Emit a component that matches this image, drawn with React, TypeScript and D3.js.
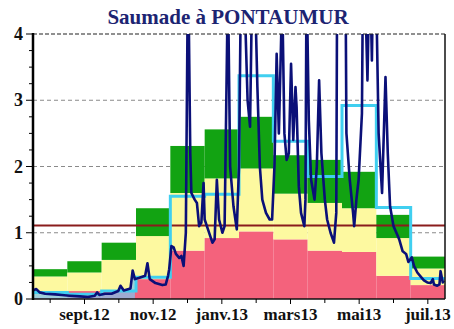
import React from "react";
import * as d3 from "d3";

// Monthly reference flows (m3/s), August 2012 to July 2013
const monthLabels = ["août", "sept.", "oct.", "nov.", "déc.", "janv.", "févr.", "mars", "avr.", "mai", "juin", "juil."];
const dryQuantile = [0.02, 0.12, 0.13, 0.3, 0.73, 0.92, 1.02, 0.9, 0.73, 0.71, 0.35, 0.21];
const medianQuantile = [0.34, 0.4, 0.59, 0.95, 1.6, 1.82, 1.97, 1.59, 1.45, 1.37, 0.92, 0.46];
const wetQuantile = [0.45, 0.57, 0.85, 1.37, 2.31, 2.56, 2.75, 2.17, 2.1, 1.92, 1.27, 0.64];
const monthlyMean = [0.1, 0.07, 0.12, 0.33, 1.55, 1.58, 3.37, 2.38, 1.85, 2.92, 1.38, 0.31];

const thresholdFlow = 1.11;

// Daily flows
const dailyDates = [
  "2012-08-01", "2012-08-04", "2012-08-07", "2012-08-12", "2012-08-21", "2012-08-27",
  "2012-09-03", "2012-09-12", "2012-09-19", "2012-09-25", "2012-09-27", "2012-09-29",
  "2012-10-04", "2012-10-10", "2012-10-16", "2012-10-18", "2012-10-21", "2012-10-27", "2012-10-29", "2012-10-31",
  "2012-11-04", "2012-11-09", "2012-11-11", "2012-11-13", "2012-11-18", "2012-11-24", "2012-11-27", "2012-11-29", "2012-11-30",
  "2012-12-02", "2012-12-04", "2012-12-06", "2012-12-09", "2012-12-11", "2012-12-13", "2012-12-15", "2012-12-17", "2012-12-19",
  "2012-12-20", "2012-12-23", "2012-12-25", "2012-12-27", "2012-12-29", "2012-12-31",
  "2013-01-01", "2013-01-04", "2013-01-08", "2013-01-10", "2013-01-12", "2013-01-14", "2013-01-17", "2013-01-19",
  "2013-01-22", "2013-01-24", "2013-01-27", "2013-01-30",
  "2013-02-01", "2013-02-03", "2013-02-05", "2013-02-08", "2013-02-10", "2013-02-12", "2013-02-14", "2013-02-16",
  "2013-02-18", "2013-02-20", "2013-02-23", "2013-02-26", "2013-02-28",
  "2013-03-02", "2013-03-04", "2013-03-06", "2013-03-08", "2013-03-09", "2013-03-11", "2013-03-13", "2013-03-15",
  "2013-03-17", "2013-03-19", "2013-03-21", "2013-03-22", "2013-03-24", "2013-03-26", "2013-03-29", "2013-03-30", "2013-03-31",
  "2013-04-02", "2013-04-04", "2013-04-07", "2013-04-09", "2013-04-11", "2013-04-13", "2013-04-16", "2013-04-18",
  "2013-04-21", "2013-04-24", "2013-04-26", "2013-04-27", "2013-04-30",
  "2013-05-02", "2013-05-04", "2013-05-05", "2013-05-08", "2013-05-11", "2013-05-12", "2013-05-14", "2013-05-16",
  "2013-05-19", "2013-05-20", "2013-05-22", "2013-05-24", "2013-05-26", "2013-05-28", "2013-05-29",
  "2013-06-01", "2013-06-03", "2013-06-05", "2013-06-06", "2013-06-09", "2013-06-11", "2013-06-13", "2013-06-16",
  "2013-06-19", "2013-06-21", "2013-06-24", "2013-06-27", "2013-06-29",
  "2013-07-02", "2013-07-04", "2013-07-07", "2013-07-11", "2013-07-13", "2013-07-16", "2013-07-19", "2013-07-21",
  "2013-07-22", "2013-07-25", "2013-07-27", "2013-07-28", "2013-07-30", "2013-07-31",
];
const dailyFlows = [
  0.13, 0.15, 0.1, 0.08, 0.07, 0.06,
  0.05, 0.04, 0.03, 0.05, 0.1, 0.06,
  0.08, 0.08, 0.12, 0.2, 0.13, 0.16, 0.43, 0.3,
  0.32, 0.35, 0.54, 0.3, 0.24, 0.21, 0.22, 0.35, 0.45,
  0.8, 0.78, 0.68, 0.62, 0.65, 0.5, 1.0, 5.2, 2.2,
  1.6, 1.5, 1.45, 1.1, 1.15, 1.75,
  1.2, 1.05, 0.85, 0.9, 1.8, 1.2, 1.0, 1.1,
  4.8, 2.0, 1.4, 1.05,
  2.0, 5.5, 4.9, 3.0, 2.6, 5.1, 4.7, 3.2,
  2.0, 1.5, 1.3, 1.2, 1.2,
  2.0, 3.7, 2.5, 3.9, 4.6, 2.5, 2.1, 2.2,
  3.55, 2.4, 3.2, 2.9, 1.7, 1.3, 1.1, 1.5, 4.9,
  2.7, 1.8, 1.5, 2.0, 3.3, 2.2, 1.5, 1.2,
  1.0, 0.85, 1.3, 6.0, 5.0,
  4.7, 5.4, 2.5, 1.8, 1.3, 1.1, 1.5, 1.8,
  2.8, 5.0, 4.6, 3.3, 5.2, 3.6, 4.8,
  4.5, 2.5, 1.9, 1.6, 3.35, 2.2, 1.4, 1.1,
  0.98, 0.9, 0.72, 0.68, 0.56,
  0.63, 0.5, 0.4, 0.32, 0.28, 0.25, 0.24, 0.3,
  0.22, 0.2, 0.22, 0.42, 0.25, 0.28,
];
// End of the low-water period
const lowWaterEnd = "2012-10-31";

const xTickMonths = [1, 3, 5, 7, 9, 11];
const xTickLabels = ["sept.12", "nov.12", "janv.13", "mars13", "mai13", "juil.13"];
const yTicks = [0, 1, 2, 3, 4];

const W = 454;
const H = 329;
const left = 33;
const right = 445;
const top = 34;
const bottom = 299;

const startYear = 2012;
const startMonth = 7; // August (0-based)

// Position of a date in months since 1 August 2012 (every month drawn with equal width)
function monthPos(s: string): number {
  const [yy, mm, dd] = s.split("-").map(Number);
  const m = (yy - startYear) * 12 + (mm - 1 - startMonth);
  const days = new Date(yy, mm, 0).getDate();
  return m + (dd - 1) / days;
}

export default function App() {
  const x = d3.scaleLinear().domain([0, 12]).range([left, right]);
  const y = d3.scaleLinear().domain([0, 4]).range([bottom, top]);

  const daily = dailyDates.map((d, i) => ({ t: monthPos(d), v: dailyFlows[i], d }));
  const lowWater = daily.filter((p) => p.t <= monthPos(lowWaterEnd));

  const flowLine = d3
    .line<{ t: number; v: number }>()
    .x((p) => x(p.t))
    .y((p) => y(p.v));
  const lowArea = d3
    .area<{ t: number; v: number }>()
    .x((p) => x(p.t))
    .y0(y(0))
    .y1((p) => y(p.v));

  const meanPts = monthlyMean.map((v, i) => [i, v] as [number, number]);
  meanPts.push([12, monthlyMean[monthlyMean.length - 1]]);
  const meanLine = d3
    .line<[number, number]>()
    .x((p) => x(p[0]))
    .y((p) => y(p[1]))
    .curve(d3.curveStepAfter);

  const minorY = d3.range(0, 4.001, 0.25);
  const font = "'Liberation Serif', 'Times New Roman', serif";

  return (
    <svg
      width={W}
      height={H}
      style={{ position: "absolute", left: 0, top: 0, background: "#fff" }}
    >
      <defs>
        <clipPath id="plot">
          <rect x={left} y={top} width={right - left} height={bottom - top} />
        </clipPath>
      </defs>

      <text
        x={228}
        y={24}
        textAnchor="middle"
        fontFamily={font}
        fontWeight="bold"
        fontSize={21}
        fill="#1c2472"
      >
        Saumade à PONTAUMUR
      </text>

      {/* horizontal grid */}
      {[1, 2, 3].map((v) => (
        <line
          key={v}
          x1={left}
          x2={right}
          y1={y(v)}
          y2={y(v)}
          stroke="#8a8a8a"
          strokeWidth={1}
          strokeDasharray="4,3"
        />
      ))}

      {/* monthly quantile bands */}
      <g>
        {monthLabels.map((m, i) => (
          <g key={m}>
            <rect
              x={x(i)}
              width={x(i + 1) - x(i)}
              y={y(dryQuantile[i])}
              height={y(0) - y(dryQuantile[i])}
              fill="#f4627c"
            />
            <rect
              x={x(i)}
              width={x(i + 1) - x(i)}
              y={y(medianQuantile[i])}
              height={y(dryQuantile[i]) - y(medianQuantile[i])}
              fill="#fdf9a0"
            />
            <rect
              x={x(i)}
              width={x(i + 1) - x(i)}
              y={y(wetQuantile[i])}
              height={y(medianQuantile[i]) - y(wetQuantile[i])}
              fill="#12a312"
            />
          </g>
        ))}
      </g>

      <path d={lowArea(lowWater) ?? ""} fill="#82c3ee" opacity={0.75} />

      <line
        x1={left}
        x2={right}
        y1={y(thresholdFlow)}
        y2={y(thresholdFlow)}
        stroke="#8a1c1c"
        strokeWidth={2}
      />

      <path d={meanLine(meanPts) ?? ""} fill="none" stroke="#40cff0" strokeWidth={3} />

      <g clipPath="url(#plot)">
        <path
          d={flowLine(daily) ?? ""}
          fill="none"
          stroke="#0b1078"
          strokeWidth={2.6}
          strokeLinejoin="round"
        />
      </g>

      {/* frame */}
      <line x1={left} x2={right} y1={top} y2={top} stroke="#222" strokeWidth={1.2} strokeDasharray="4,2" />
      <line x1={right} x2={right} y1={top} y2={bottom} stroke="#111" strokeWidth={1.5} />
      <line x1={left} x2={right} y1={bottom} y2={bottom} stroke="#111" strokeWidth={1.5} />
      <line x1={left} x2={left} y1={top - 1} y2={bottom + 1} stroke="#000" strokeWidth={2.5} />

      {/* y axis */}
      {minorY.map((v) => (
        <line
          key={v}
          x1={Number.isInteger(v) ? left - 7 : left - 4}
          x2={left}
          y1={y(v)}
          y2={y(v)}
          stroke="#000"
          strokeWidth={1}
        />
      ))}
      {yTicks.map((v) => (
        <text
          key={v}
          x={left - 10}
          y={y(v) + 6}
          textAnchor="end"
          fontFamily={font}
          fontWeight="bold"
          fontSize={18}
          fill="#111"
        >
          {v}
        </text>
      ))}

      {/* x axis */}
      {monthLabels.map((m, i) => (
        <line
          key={m}
          x1={x(i + 0.5)}
          x2={x(i + 0.5)}
          y1={bottom}
          y2={bottom + (xTickMonths.includes(i) ? 5 : 4)}
          stroke="#000"
          strokeWidth={1}
        />
      ))}
      {xTickMonths.map((i, k) => (
        <text
          key={i}
          x={x(i + 0.5)}
          y={320}
          textAnchor="middle"
          fontFamily={font}
          fontWeight="bold"
          fontSize={17}
          fill="#111"
        >
          {xTickLabels[k]}
        </text>
      ))}
    </svg>
  );
}
